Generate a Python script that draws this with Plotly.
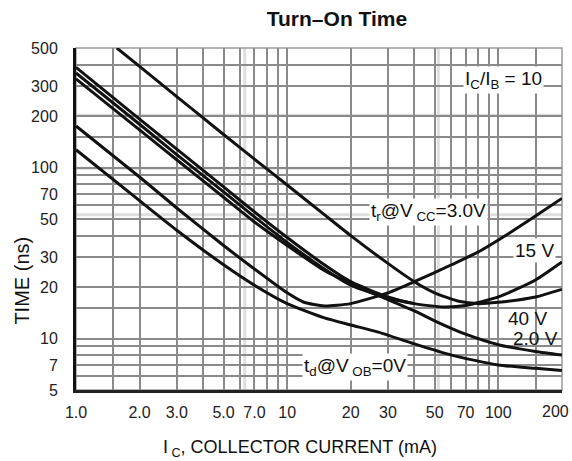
import plotly.graph_objects as go

# ---- data ----
tr40_i = [1.56, 2, 3, 5, 7, 10, 15, 20, 30, 40, 50, 65, 80, 100, 150, 200]
tr40_t = [500, 390, 260, 156, 112, 79, 53, 40, 27.5, 21.5, 18.5, 16.5, 16, 16.3, 17.5, 19.4]

tr15_i = [1, 2, 3, 5, 7, 10, 15, 20, 30, 40, 55, 70, 100, 150, 200]
tr15_t = [385, 192, 128, 77, 55, 39, 27, 21.5, 17.5, 16, 15.3, 15.6, 17.5, 22, 28]

mid_i = [1, 2, 3, 5, 7, 10, 15, 20, 30, 40]
mid_t = [357, 179, 119, 72, 51.5, 36.5, 25.5, 20.5, 17.2, 16]

tr3_i = [1, 2, 3, 5, 7, 10, 12, 15, 20, 30, 40, 60, 80, 115, 150, 200]
tr3_t = [175, 88, 58, 35, 25.5, 18.5, 16.3, 15.5, 16, 18.5, 21.5, 27, 32, 42, 52, 66]

td2_i = [1, 2, 3, 5, 7, 10, 15, 20, 28, 40, 52, 70, 100, 150, 200]
td2_t = [330, 166, 111, 67, 48, 35, 25, 21, 17.5, 14.5, 12.4, 10.6, 9.2, 8.4, 8.0]

td0_i = [1, 2, 3, 5, 7, 10, 15, 20, 27, 40, 60, 100, 150, 200]
td0_t = [127, 64, 43, 27, 20.5, 16, 13.2, 12, 10.9, 9.3, 8.0, 7.0, 6.7, 6.5]

x_ticks = [1, 2, 3, 5, 7, 10, 20, 30, 50, 70, 100, 200]
x_labels = ["1.0", "2.0", "3.0", "5.0", "7.0", "10", "20", "30", "50", "70", "100", ""]
x_last_label = "200"   # drawn separately so it stays inside the page
x_minor = [1.5, 4, 6, 8, 9, 40, 60, 80, 90, 150]
y_ticks = [5, 7, 10, 20, 30, 50, 70, 100, 200, 300, 500]
y_labels = ["5", "7", "10", "20", "30", "50", "70", "100", "200", "300", "500"]
y_minor = [6, 8, 9, 15, 40, 60, 80, 90, 150, 400]

# light grey bands in the scanned grid
x_bands = [6.3, 52]
y_bands = [53, 99, 202]

series = [
    (tr40_i, tr40_t),
    (tr15_i, tr15_t),
    (mid_i, mid_t),
    (tr3_i, tr3_t),
    (td2_i, td2_t),
    (td0_i, td0_t),
]

FONT = "Liberation Sans, Arial, sans-serif"
GRID = "#8a8a8a"
BAND = "#dedede"

fig = go.Figure()
for xs, ys in series:
    fig.add_trace(go.Scatter(x=xs, y=ys, mode="lines",
                             line=dict(color="#111111", width=3, shape="spline", smoothing=0.6),
                             showlegend=False, hoverinfo="skip"))

for xb in x_bands:
    fig.add_shape(type="line", xref="x", yref="paper", x0=xb, x1=xb, y0=0, y1=1,
                  line=dict(color=BAND, width=3), layer="below")
for yb in y_bands:
    fig.add_shape(type="line", xref="paper", yref="y", x0=0, x1=1, y0=yb, y1=yb,
                  line=dict(color=BAND, width=3), layer="below")

fig.update_layout(
    width=572, height=461,
    margin=dict(l=76, r=10, t=48, b=71),
    paper_bgcolor="white", plot_bgcolor="white",
    title=dict(text="<b>Turn–On Time</b>", x=0.537, xref="paper", xanchor="center",
               y=1 - 19 / 461, yanchor="middle",
               font=dict(family=FONT, size=21, color="#111111")),
    font=dict(family=FONT, size=16, color="#222222"),
)

fig.update_xaxes(
    type="log", range=[0, 2.3016], automargin=False,
    tickmode="array", tickvals=x_ticks, ticktext=x_labels,
    showgrid=True, gridcolor=GRID, gridwidth=1.5,
    minor=dict(tickmode="array", tickvals=x_minor, showgrid=True, gridcolor=GRID, gridwidth=1.5, ticks=""),
    showline=True, linecolor="#222222", linewidth=3, mirror=False,
    ticks="", ticklabelstandoff=6, zeroline=False,
    tickfont=dict(family=FONT, size=16, color="#222222"),
)
fig.update_yaxes(
    type="log", range=[0.69897, 2.69897], automargin=False,
    tickmode="array", tickvals=y_ticks, ticktext=y_labels,
    showgrid=True, gridcolor=GRID, gridwidth=1.5,
    minor=dict(tickmode="array", tickvals=y_minor, showgrid=True, gridcolor=GRID, gridwidth=1.5, ticks=""),
    showline=True, linecolor="#111111", linewidth=3, mirror=False,
    ticks="", ticklabelstandoff=12, zeroline=False,
    tickfont=dict(family=FONT, size=16, color="#222222"),
)

# frame top/right (light)
fig.add_shape(type="rect", xref="paper", yref="paper", x0=0, y0=0, x1=1, y1=1,
              line=dict(color="#9a9a9a", width=1.5), layer="below")

# last x tick label, kept inside the page
fig.add_annotation(x=1, y=-0.064, xref="paper", yref="paper", xanchor="right", yanchor="middle",
                   xshift=9, text=x_last_label, showarrow=False,
                   font=dict(family=FONT, size=16, color="#222222"))

ann = dict(font=dict(family=FONT, size=19, color="#111111"), showarrow=False,
           xref="paper", yref="paper", yanchor="middle")
fig.add_annotation(x=0.88, y=0.906, xanchor="center",
                   text="I<sub>C</sub>/I<sub>B</sub> = 10", bgcolor="white", **ann)
fig.add_annotation(x=0.603, y=0.52, xanchor="left",
                   text="t<sub>r</sub>@V<sub> CC</sub>=3.0V", bgcolor="white", **ann)
fig.add_annotation(x=0.944, y=0.409, xanchor="center", text="15 V", bgcolor="white", **ann)
fig.add_annotation(x=0.928, y=0.21, xanchor="center", text="40 V", **ann)
fig.add_annotation(x=0.946, y=0.15, xanchor="center", text="2.0 V", **ann)
fig.add_annotation(x=0.465, y=0.067, xanchor="left",
                   text="t<sub>d</sub>@V<sub> OB</sub>=0V", bgcolor="white", **ann)

fig.add_annotation(x=-0.111, y=0.32, xref="paper", yref="paper", xanchor="center", yanchor="middle",
                   text="TIME (ns)", textangle=-90,
                   font=dict(family=FONT, size=20, color="#111111"), showarrow=False)
fig.add_annotation(x=0.461, y=-0.17, xref="paper", yref="paper", xanchor="center", yanchor="middle",
                   text="I<sub> C</sub>, COLLECTOR CURRENT (mA)",
                   font=dict(family=FONT, size=18, color="#111111"), showarrow=False)

fig.write_html("out.html")
